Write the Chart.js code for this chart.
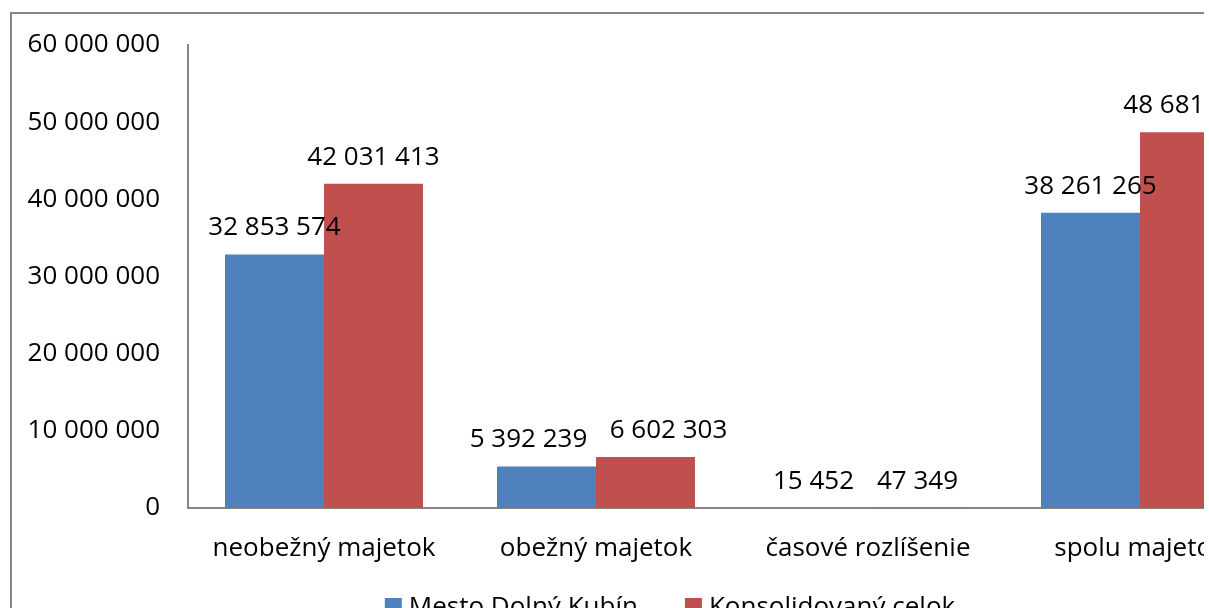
<!DOCTYPE html>
<html>
<head>
<meta charset="utf-8">
<script src="https://cdn.jsdelivr.net/npm/chart.js@4"></script>
<style>
  html, body { margin: 0; padding: 0; background: #fff; overflow: hidden; width: 1209px; height: 608px; }
  #clip { position: absolute; left: 0; top: 0; width: 1204px; height: 608px; overflow: hidden; }
  #frame { position: absolute; left: 10px; top: 12px; width: 1400px; height: 800px; border: 2px solid #868686; box-sizing: border-box; }
  #c { position: absolute; left: 0; top: 0; }
</style>
</head>
<body>
<div id="clip">
<div id="frame"></div>
<canvas id="c" width="1340" height="640"></canvas>
</div>
<script>
const categories = ['neobežný majetok', 'obežný majetok', 'časové rozlíšenie', 'spolu majetok'];
const seriesNames = ['Mesto Dolný Kubín', 'Konsolidovaný celok'];
const mestoValues = [32853574, 5392239, 15452, 38261265];
const konsolValues = [42031413, 6602303, 47349, 48681065];
const yTicks = [0, 10000000, 20000000, 30000000, 40000000, 50000000, 60000000];

const FONT = "'Open Sans', 'Noto Sans', sans-serif";
const COLORS = ['#4F81BD', '#C0504D'];
// horizontal nudges of the data labels as placed in the original
const labelShift = [[0, -18, -5, 0], [0, 23, 0, 0]];
const fmt = v => String(v).replace(/\B(?=(\d{3})+(?!\d))/g, ' ');

const dataLabels = {
  id: 'dataLabels',
  afterDatasetsDraw(chart) {
    const ctx = chart.ctx;
    ctx.save();
    ctx.font = '26px ' + FONT;
    ctx.fillStyle = '#000';
    ctx.textAlign = 'center';
    ctx.textBaseline = 'alphabetic';
    chart.data.datasets.forEach((ds, i) => {
      const meta = chart.getDatasetMeta(i);
      meta.data.forEach((el, j) => {
        ctx.fillText(fmt(ds.data[j]), el.x + labelShift[i][j], el.y - 19);
      });
    });
    ctx.restore();
  }
};

const bottomLegend = {
  id: 'bottomLegend',
  afterDraw(chart) {
    const ctx = chart.ctx;
    ctx.save();
    ctx.font = '26px ' + FONT;
    const box = 17, gap = 7, spacing = 47;
    const items = chart.data.datasets.map(ds => ({ text: ds.label, color: ds.backgroundColor, w: ctx.measureText(ds.label).width }));
    const total = items.reduce((s, it) => s + box + gap + it.w, 0) + spacing * (items.length - 1);
    let x = chart.width / 2 - total / 2;
    const top = chart.chartArea.bottom + 90;
    items.forEach(it => {
      ctx.fillStyle = it.color;
      ctx.fillRect(x, top, box, box);
      ctx.fillStyle = '#000';
      ctx.textBaseline = 'middle';
      ctx.textAlign = 'left';
      ctx.fillText(it.text, x + box + gap, top + box / 2 + 1);
      x += box + gap + it.w + spacing;
    });
    ctx.restore();
  }
};

new Chart(document.getElementById('c'), {
  type: 'bar',
  data: {
    labels: categories,
    datasets: [
      { label: seriesNames[0], data: mestoValues, backgroundColor: COLORS[0], borderWidth: 0 },
      { label: seriesNames[1], data: konsolValues, backgroundColor: COLORS[1], borderWidth: 0 }
    ]
  },
  options: {
    responsive: false,
    animation: false,
    devicePixelRatio: 1,
    layout: { padding: { left: 0, right: 64, top: 45, bottom: 32 } },
    datasets: { bar: { categoryPercentage: 0.728, barPercentage: 1.0 } },
    plugins: {
      legend: { display: false },
      tooltip: { enabled: false }
    },
    scales: {
      x: {
        afterFit(scale) { scale.height = 100; },
        grid: { display: false, drawTicks: false },
        border: { display: true, color: '#868686', width: 2 },
        ticks: { color: '#000', font: { family: FONT, size: 26 }, padding: 25, maxRotation: 0, autoSkip: false }
      },
      y: {
        min: 0, max: 60000000,
        afterFit(scale) { scale.width = 188; },
        afterBuildTicks(scale) { scale.ticks = yTicks.map(v => ({ value: v })); },
        grid: { display: false, drawTicks: false },
        border: { display: true, color: '#868686', width: 2 },
        ticks: { color: '#000', font: { family: FONT, size: 26 }, padding: 28, callback: v => fmt(v) }
      }
    }
  },
  plugins: [dataLabels, bottomLegend]
});
</script>
</body>
</html>
